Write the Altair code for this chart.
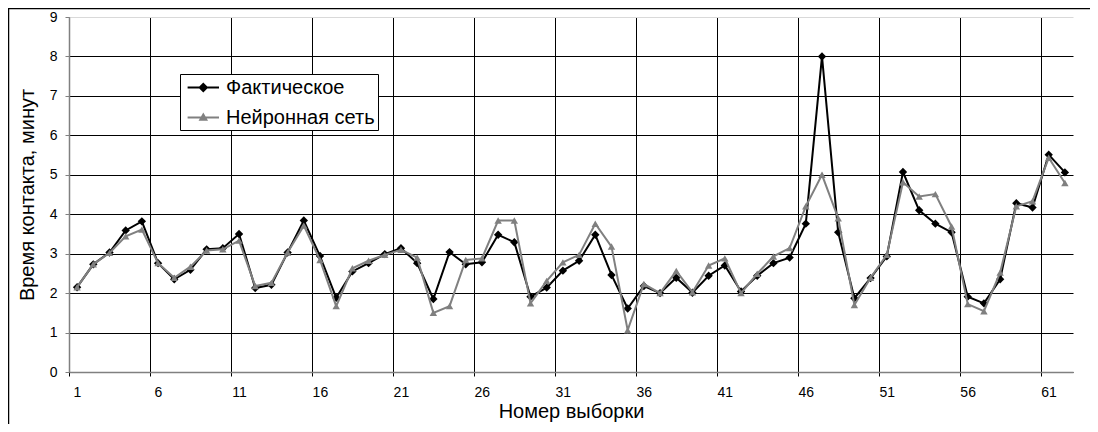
import altair as alt
import pandas as pd

sample = list(range(1, 63))
actual = [2.15, 2.73, 3.03, 3.59, 3.82, 2.76, 2.35, 2.59, 3.11, 3.14,
          3.50, 2.13, 2.21, 3.03, 3.84, 2.94, 1.88, 2.55, 2.76, 2.99,
          3.14, 2.76, 1.85, 3.04, 2.73, 2.78, 3.48, 3.29, 1.91, 2.14,
          2.57, 2.82, 3.48, 2.46, 1.61, 2.18, 2.00, 2.39, 2.01, 2.44,
          2.70, 2.04, 2.44, 2.76, 2.90, 3.76, 8.00, 3.54, 1.87, 2.38,
          2.93, 5.07, 4.10, 3.76, 3.54, 1.91, 1.74, 2.35, 4.28, 4.17,
          5.51, 5.06]
network = [2.15, 2.73, 3.02, 3.44, 3.61, 2.76, 2.39, 2.67, 3.08, 3.11,
           3.33, 2.18, 2.26, 3.03, 3.71, 2.84, 1.67, 2.63, 2.82, 2.97,
           3.10, 2.90, 1.50, 1.67, 2.84, 2.88, 3.84, 3.84, 1.74, 2.31,
           2.78, 2.97, 3.76, 3.18, 1.06, 2.23, 2.00, 2.56, 2.02, 2.70,
           2.88, 2.00, 2.49, 2.93, 3.14, 4.20, 5.00, 3.90, 1.70, 2.39,
           2.97, 4.81, 4.45, 4.51, 3.69, 1.72, 1.54, 2.52, 4.20, 4.33,
           5.43, 4.79]
series_names = ["Фактическое", "Нейронная сеть"]
series_colors = ["#000000", "#808080"]
marker_shapes = ["diamond", "triangle-up"]
marker_sizes = [70, 55]
legend_symbols = ["M-1.57,0H1.57M0,-0.36L0.36,0L0,0.36L-0.36,0Z",
                  "M-1.57,0H1.57M0,-0.3L0.3,0.22L-0.3,0.22Z"]
x_tick_values = [0.5 + 5 * i for i in range(13)]
y_tick_values = list(range(10))

df = pd.DataFrame({
    "sample": sample * 2,
    "value": actual + network,
    "series": [series_names[0]] * len(actual) + [series_names[1]] * len(network),
})

FONT = "Liberation Sans"

x_enc = alt.X(
    "sample:Q",
    scale=alt.Scale(domain=[0.5, 62.5], nice=False, zero=False),
    axis=alt.Axis(
        values=x_tick_values, labelExpr="datum.value + 0.5",
        title="Номер выборки", grid=True, gridColor="black", gridWidth=1,
        domainColor="#808080", domainWidth=1.5, tickColor="black", tickSize=4,
        labelFont=FONT, labelFontSize=14, labelColor="black", labelPadding=9,
        labelOffset=8, labelFlush=False, labelOverlap=False,
        titleFont=FONT, titleFontSize=20, titleFontWeight="normal",
        titleColor="black", titlePadding=2,
    ),
)
y_enc = alt.Y(
    "value:Q",
    scale=alt.Scale(domain=[0, 9], nice=False, zero=True),
    axis=alt.Axis(
        values=y_tick_values, title="Время контакта, минут", grid=True,
        gridColor={"condition": {"test": "datum.value === 9", "value": "#d9d9d9"}, "value": "black"},
        gridWidth=1, domainColor="#808080", domainWidth=1.5, tickColor="#808080",
        tickSize=4, labelFont=FONT, labelFontSize=14, labelColor="black",
        labelPadding=8, titleFont=FONT, titleFontSize=20, titleFontWeight="normal",
        titleColor="black", titlePadding=12,
    ),
)

base = alt.Chart(df).encode(x=x_enc, y=y_enc)
layers = []
for name, col, shp, sz in zip(series_names, series_colors, marker_shapes, marker_sizes):
    sub = base.transform_filter(alt.datum.series == name)
    layers.append(sub.mark_line(color=col, strokeWidth=2))
    layers.append(sub.mark_point(color=col, shape=shp, filled=True, size=sz, opacity=1))

leg = alt.Legend(
    title=None, orient="none", legendX=111, legendY=57, direction="vertical",
    strokeColor="black", fillColor="white", padding=2.5, symbolSize=400,
    symbolStrokeWidth=2, symbolOffset=9.8, labelOffset=11.7, labelFont=FONT,
    labelFontSize=20, labelColor="black", rowPadding=9, labelLimit=0,
    cornerRadius=0,
)
legend_layer = alt.Chart(df).transform_filter("false").mark_point(
    filled=True, opacity=1, size=400, strokeWidth=2
).encode(
    x=x_enc, y=y_enc,
    shape=alt.Shape("series:N", scale=alt.Scale(domain=series_names, range=legend_symbols), legend=leg),
    fill=alt.Fill("series:N", scale=alt.Scale(domain=series_names, range=series_colors), legend=leg),
    stroke=alt.Stroke("series:N", scale=alt.Scale(domain=series_names, range=series_colors), legend=leg),
)

frame_src = alt.Chart(pd.DataFrame({"k": [0]}))
frame_left = frame_src.mark_rule(color="black", strokeWidth=1.5).encode(
    x=alt.value(-60.5), y=alt.value(-8.5), y2=alt.value(407))
frame_top = frame_src.mark_rule(color="black", strokeWidth=1.5).encode(
    x=alt.value(-61), x2=alt.value(1021), y=alt.value(-8.5))

chart = alt.layer(*layers, legend_layer, frame_left, frame_top).properties(
    width=1004, height=355,
    autosize=alt.AutoSizeParams(type="none"),
    padding={"left": 61, "top": 9, "right": 17, "bottom": 52},
    background="white",
).configure_view(stroke=None)

chart.save("out.html", embed_options={"renderer": "svg", "actions": False})
